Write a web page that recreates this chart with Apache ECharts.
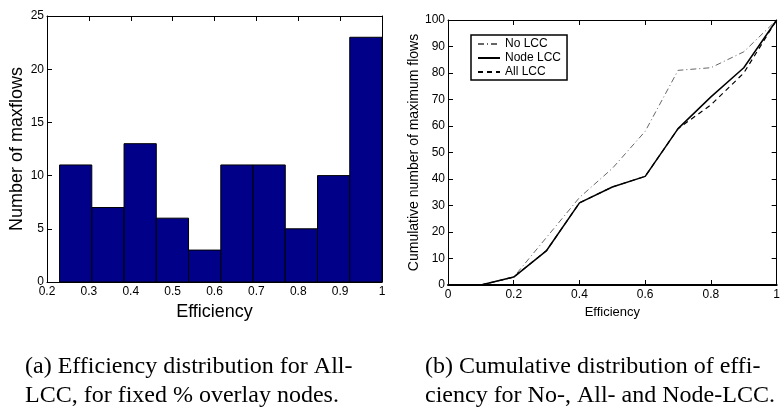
<!DOCTYPE html>
<html>
<head>
<meta charset="utf-8">
<script src="https://cdn.jsdelivr.net/npm/echarts@6/dist/echarts.min.js"></script>
<style>
  html, body { margin: 0; padding: 0; background: #fff; }
  #main { width: 783px; height: 413px; }
</style>
</head>
<body>
<div id="main"></div>
<script>
// (a) histogram: bin edges + counts
var binEdges = [0.23, 0.307, 0.384, 0.461, 0.538, 0.615, 0.692, 0.769, 0.846, 0.923, 1.0];
var binCounts = [11, 7, 13, 6, 3, 11, 11, 5, 10, 23];

// (b) cumulative curves
var effLevels = [0.1, 0.2, 0.3, 0.4, 0.5, 0.6, 0.7, 0.8, 0.9, 1.0];
var noLcc   = [0, 3, 18, 33, 44, 58, 81, 82, 88, 100];
var nodeLcc = [0, 3, 13, 31, 37, 41, 59, 71, 82, 100];
var allLcc  = [0, 3, 13, 31, 37, 41, 59, 68, 80, 100];

var sans = 'Liberation Sans';

var histData = binCounts.map(function (c, i) { return [binEdges[i], binEdges[i + 1], c]; });
function pairs(ys) { return effLevels.map(function (x, i) { return [x, ys[i]]; }); }

function renderBin(params, api) {
    var p0 = api.coord([api.value(0), 0]);
    var p1 = api.coord([api.value(1), api.value(2)]);
    return {
        type: 'rect',
        shape: { x: p0[0], y: p1[1], width: p1[0] - p0[0], height: p0[1] - p1[1] },
        style: { fill: '#000088', stroke: '#000', lineWidth: 1 }
    };
}

var tickIn = { show: true, inside: true, length: 5, lineStyle: { color: '#000' } };
var lbl = { color: '#000', fontFamily: sans, fontSize: 12 };
function line(w) { return { onZero: false, lineStyle: { color: '#000', width: w } }; }

function caption(x, y, txt) {
    return { type: 'text', x: x, y: y, style: { text: txt, fill: '#000', font: '24px "Liberation Serif"', textVerticalAlign: 'middle' } };
}

var myChart = echarts.init(document.getElementById('main'));
var option = {
    backgroundColor: '#fff',
    animation: false,
    grid: [
        { left: 47, right: 401, top: 16, bottom: 131 },
        { left: 448, right: 1, top: 20, bottom: 128 }
    ],
    legend: {
        data: ['No LCC', 'Node LCC', 'All LCC'],
        orient: 'vertical',
        left: 471, top: 35,
        padding: [3, 6, 2, 6],
        itemWidth: 22, itemHeight: 10, itemGap: 2,
        itemStyle: { opacity: 0 },
        backgroundColor: '#fff',
        borderColor: '#000', borderWidth: 1.5,
        textStyle: { color: '#000', fontFamily: sans, fontSize: 12, lineHeight: 12 }
    },
    xAxis: [
        {
            gridIndex: 0, type: 'value', min: 0.2, max: 1, interval: 0.1,
            name: 'Efficiency', nameLocation: 'middle', nameGap: 16,
            nameTextStyle: { color: '#000', fontFamily: sans, fontSize: 18 },
            axisLine: line(1), axisTick: tickIn, axisLabel: Object.assign({ margin: 4 }, lbl),
            splitLine: { show: false }
        },
        {
            gridIndex: 0, type: 'value', min: 0.2, max: 1, interval: 0.1, position: 'top',
            axisLine: line(1), axisTick: tickIn, axisLabel: { show: false }, splitLine: { show: false }
        },
        {
            gridIndex: 1, type: 'value', min: 0, max: 1, interval: 0.2,
            name: 'Efficiency', nameLocation: 'middle', nameGap: 17,
            nameTextStyle: { color: '#000', fontFamily: sans, fontSize: 13 },
            axisLine: line(2), axisTick: tickIn, axisLabel: Object.assign({ margin: 4 }, lbl),
            splitLine: { show: false }
        },
        {
            gridIndex: 1, type: 'value', min: 0, max: 1, interval: 0.2, position: 'top',
            axisLine: line(1), axisTick: tickIn, axisLabel: { show: false }, splitLine: { show: false }
        }
    ],
    yAxis: [
        {
            gridIndex: 0, type: 'value', min: 0, max: 25, interval: 5,
            name: 'Number of maxflows', nameLocation: 'middle', nameGap: 21,
            nameTextStyle: { color: '#000', fontFamily: sans, fontSize: 18 },
            axisLine: line(1), axisTick: tickIn, axisLabel: Object.assign({ margin: 3 }, lbl),
            splitLine: { show: false }
        },
        {
            gridIndex: 0, type: 'value', min: 0, max: 25, interval: 5, position: 'right',
            axisLine: line(1), axisTick: tickIn, axisLabel: { show: false }, splitLine: { show: false }
        },
        {
            gridIndex: 1, type: 'value', min: 0, max: 100, interval: 10,
            name: 'Cumulative number of maximum flows', nameLocation: 'middle', nameGap: 24,
            nameTextStyle: { color: '#000', fontFamily: sans, fontSize: 14 },
            axisLine: line(1), axisTick: tickIn, axisLabel: Object.assign({ margin: 3 }, lbl),
            splitLine: { show: false }
        },
        {
            gridIndex: 1, type: 'value', min: 0, max: 100, interval: 10, position: 'right',
            axisLine: line(1), axisTick: tickIn, axisLabel: { show: false }, splitLine: { show: false }
        }
    ],
    series: [
        {
            name: 'hist', type: 'custom', xAxisIndex: 0, yAxisIndex: 0,
            renderItem: renderBin, data: histData
        },
        {
            name: 'No LCC', type: 'line', xAxisIndex: 2, yAxisIndex: 2,
            symbol: 'none', data: pairs(noLcc),
            lineStyle: { color: '#666', width: 1, type: [6, 3, 1, 3] },
            itemStyle: { color: '#666' }
        },
        {
            name: 'Node LCC', type: 'line', xAxisIndex: 2, yAxisIndex: 2,
            symbol: 'none', data: pairs(nodeLcc),
            lineStyle: { color: '#000', width: 1.5, type: 'solid' },
            itemStyle: { color: '#000' }
        },
        {
            name: 'All LCC', type: 'line', xAxisIndex: 2, yAxisIndex: 2,
            symbol: 'none', data: pairs(allLcc),
            lineStyle: { color: '#000', width: 1.2, type: [5, 4] },
            itemStyle: { color: '#000' }
        }
    ],
    graphic: [
        caption(25, 367, '(a) Efficiency distribution for All-'),
        caption(25, 396, 'LCC, for fixed % overlay nodes.'),
        caption(425, 367, '(b) Cumulative distribution of effi-'),
        caption(425, 396, 'ciency for No-, All- and Node-LCC.')
    ]
};
myChart.setOption(option);
</script>
</body>
</html>
